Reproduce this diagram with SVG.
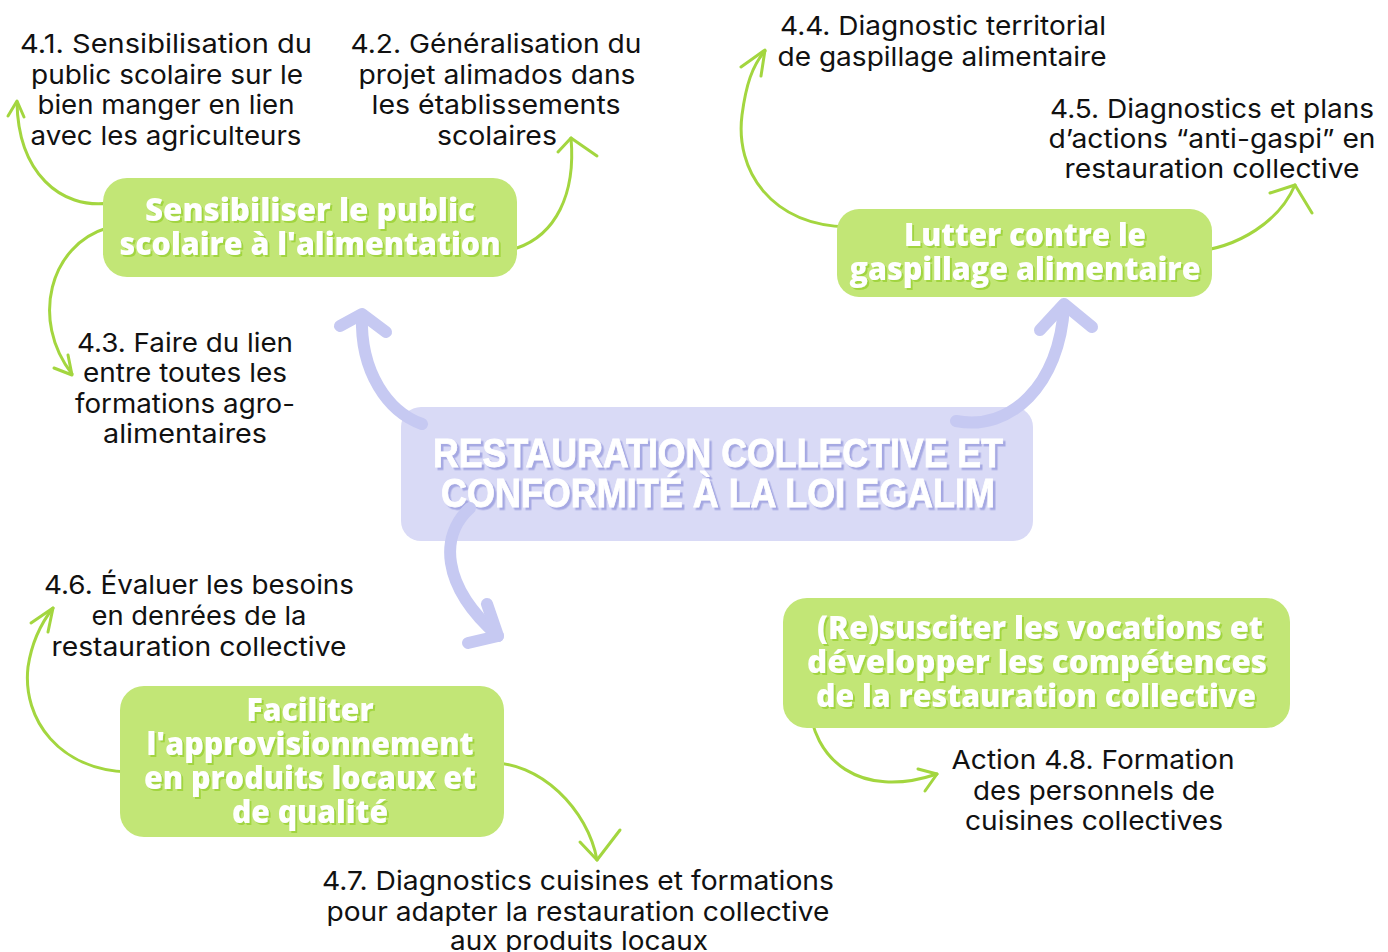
<svg xmlns="http://www.w3.org/2000/svg" width="1388" height="952" viewBox="0 0 1388 952">
<defs>
<filter id="gsh" x="-5%" y="-20%" width="110%" height="140%">
<feDropShadow dx="2" dy="2" stdDeviation="0" flood-color="#a2d53f" flood-opacity="1"/>
</filter>
<filter id="csh" x="-5%" y="-20%" width="110%" height="140%">
<feDropShadow dx="2.5" dy="2.5" stdDeviation="0" flood-color="#a5a8e2" flood-opacity="1"/>
</filter>
</defs>
<style>
.gbox{fill:#c2e676}
.cbox{fill:#d9daf6}
.gt{font-family:"Open Sans","Liberation Sans",sans-serif;font-weight:800;font-size:31px;text-anchor:middle;fill:#ffffff;filter:url(#gsh)}
.ct{font-family:"Liberation Sans",Arial,sans-serif;font-weight:700;font-size:41px;text-anchor:middle;fill:#ffffff;stroke:#ffffff;stroke-width:0.8;filter:url(#csh)}
.lb{font-family:Inter,"Liberation Sans",sans-serif;font-size:26px;fill:#111111;text-anchor:middle}
.gl{fill:none;stroke:#a3d63f;stroke-width:3;stroke-linecap:round;stroke-linejoin:round}
.pl{fill:none;stroke:#c6c9f2;stroke-width:12;stroke-linecap:round;stroke-linejoin:round}
</style>
<rect width="1388" height="952" fill="#ffffff"/>

<g id="center">
<rect class="cbox" x="401" y="407" width="632" height="134" rx="20"/>
<text class="ct" x="718" y="467" textLength="570" lengthAdjust="spacingAndGlyphs">RESTAURATION COLLECTIVE ET</text>
<text class="ct" x="718" y="507" textLength="554" lengthAdjust="spacingAndGlyphs">CONFORMITÉ À LA LOI EGALIM</text>
</g>

<g id="connectors">
<path class="pl" d="M422,424 C388,412 360,372 362,316"/>
<path class="pl" d="M340,326 L362,314 L386,332"/>
<path class="pl" d="M956,421 C1010,432 1060,385 1064,306"/>
<path class="pl" d="M1040,330 L1064,304 L1092,327"/>
<path class="pl" d="M470,508 C440,535 440,585 498,636"/>
<path class="pl" d="M487,604 L498,636 L468,643"/>

<path class="gl" d="M110,203 C60,210 18,172 17,102"/>
<path class="gl" d="M8,116 L17,101 L24,117"/>
<path class="gl" d="M107,228 C50,245 30,320 72,374"/>
<path class="gl" d="M54,368 L72,375 L68,355"/>
<path class="gl" d="M517,248 C555,235 576,195 571,138"/>
<path class="gl" d="M558,152 L571,138 L597,156"/>
<path class="gl" d="M848,227 C770,225 735,170 742,115 C746,85 752,66 765,51"/>
<path class="gl" d="M741,67 L765,50 L761,76"/>
<path class="gl" d="M1191,252 C1240,248 1280,220 1295,185"/>
<path class="gl" d="M1270,193 L1295,185 L1312,213"/>
<path class="gl" d="M128,772 C60,770 22,720 28,667 C32,640 42,622 53,608"/>
<path class="gl" d="M31,623 L53,608 L48,632"/>
<path class="gl" d="M487,763 C540,760 588,810 597,860"/>
<path class="gl" d="M580,842 L597,860 L620,830"/>
<path class="gl" d="M809,701 C812,760 860,800 937,774"/>
<path class="gl" d="M918,769 L937,774 L925,791"/>
</g>

<g id="n1">
<rect class="gbox" x="103" y="178" width="414" height="99" rx="24"/>
<text class="gt" x="310" y="221" textLength="330" lengthAdjust="spacingAndGlyphs">Sensibiliser le public</text>
<text class="gt" x="310" y="255" textLength="381" lengthAdjust="spacingAndGlyphs">scolaire à l'alimentation</text>
</g>

<g id="n2">
<rect class="gbox" x="837" y="209" width="375" height="88" rx="22"/>
<text class="gt" x="1025" y="246" textLength="242" lengthAdjust="spacingAndGlyphs">Lutter contre le</text>
<text class="gt" x="1025" y="280" textLength="351" lengthAdjust="spacingAndGlyphs">gaspillage alimentaire</text>
</g>

<g id="n4">
<rect class="gbox" x="120" y="686" width="384" height="151" rx="24"/>
<text class="gt" x="310" y="721" textLength="127" lengthAdjust="spacingAndGlyphs">Faciliter</text>
<text class="gt" x="310" y="755" textLength="327" lengthAdjust="spacingAndGlyphs">l'approvisionnement</text>
<text class="gt" x="310" y="789" textLength="332" lengthAdjust="spacingAndGlyphs">en produits locaux et</text>
<text class="gt" x="310" y="823" textLength="156" lengthAdjust="spacingAndGlyphs">de qualité</text>
</g>

<g id="n5">
<rect class="gbox" x="783" y="598" width="507" height="130" rx="24"/>
<text class="gt" x="1040" y="639" textLength="446" lengthAdjust="spacingAndGlyphs">(Re)susciter les vocations et</text>
<text class="gt" x="1037" y="673" textLength="460" lengthAdjust="spacingAndGlyphs">développer les compétences</text>
<text class="gt" x="1036" y="707" textLength="440" lengthAdjust="spacingAndGlyphs">de la restauration collective</text>
</g>

<g id="l41">
<text class="lb" x="166" y="53" textLength="292" lengthAdjust="spacingAndGlyphs">4.1. Sensibilisation du</text>
<text class="lb" x="167" y="83.5" textLength="272" lengthAdjust="spacingAndGlyphs">public scolaire sur le</text>
<text class="lb" x="166" y="114" textLength="257" lengthAdjust="spacingAndGlyphs">bien manger en lien</text>
<text class="lb" x="166" y="144.5" textLength="271" lengthAdjust="spacingAndGlyphs">avec les agriculteurs</text>
</g>
<g id="l42">
<text class="lb" x="496" y="53" textLength="291" lengthAdjust="spacingAndGlyphs">4.2. Généralisation du</text>
<text class="lb" x="497" y="83.5" textLength="277" lengthAdjust="spacingAndGlyphs">projet alimados dans</text>
<text class="lb" x="496" y="114" textLength="249" lengthAdjust="spacingAndGlyphs">les établissements</text>
<text class="lb" x="497" y="144.5" textLength="120" lengthAdjust="spacingAndGlyphs">scolaires</text>
</g>
<g id="l43">
<text class="lb" x="185" y="352" textLength="216" lengthAdjust="spacingAndGlyphs">4.3. Faire du lien</text>
<text class="lb" x="185" y="382" textLength="204" lengthAdjust="spacingAndGlyphs">entre toutes les</text>
<text class="lb" x="185" y="413" textLength="220" lengthAdjust="spacingAndGlyphs">formations agro-</text>
<text class="lb" x="185" y="443" textLength="164" lengthAdjust="spacingAndGlyphs">alimentaires</text>
</g>
<g id="l44">
<text class="lb" x="943" y="35" textLength="326" lengthAdjust="spacingAndGlyphs">4.4. Diagnostic territorial</text>
<text class="lb" x="942" y="66" textLength="329" lengthAdjust="spacingAndGlyphs">de gaspillage alimentaire</text>
</g>
<g id="l45">
<text class="lb" x="1212" y="118" textLength="324" lengthAdjust="spacingAndGlyphs">4.5. Diagnostics et plans</text>
<text class="lb" x="1212" y="148" textLength="327" lengthAdjust="spacingAndGlyphs">d’actions “anti-gaspi” en</text>
<text class="lb" x="1212" y="178" textLength="295" lengthAdjust="spacingAndGlyphs">restauration collective</text>
</g>
<g id="l46">
<text class="lb" x="199" y="594" textLength="310" lengthAdjust="spacingAndGlyphs">4.6. Évaluer les besoins</text>
<text class="lb" x="199" y="625" textLength="215" lengthAdjust="spacingAndGlyphs">en denrées de la</text>
<text class="lb" x="199" y="656" textLength="295" lengthAdjust="spacingAndGlyphs">restauration collective</text>
</g>
<g id="l47">
<text class="lb" x="578" y="890" textLength="512" lengthAdjust="spacingAndGlyphs">4.7. Diagnostics cuisines et formations</text>
<text class="lb" x="578" y="921" textLength="503" lengthAdjust="spacingAndGlyphs">pour adapter la restauration collective</text>
<text class="lb" x="579" y="950" textLength="258" lengthAdjust="spacingAndGlyphs">aux produits locaux</text>
</g>
<g id="l48">
<text class="lb" x="1093" y="769" textLength="283" lengthAdjust="spacingAndGlyphs">Action 4.8. Formation</text>
<text class="lb" x="1094" y="800" textLength="242" lengthAdjust="spacingAndGlyphs">des personnels de</text>
<text class="lb" x="1094" y="830" textLength="258" lengthAdjust="spacingAndGlyphs">cuisines collectives</text>
</g>
</svg>
